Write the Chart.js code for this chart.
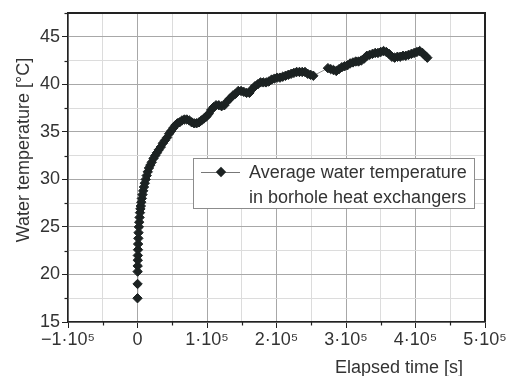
<!DOCTYPE html>
<html><head><meta charset="utf-8">
<script src="https://cdn.jsdelivr.net/npm/chart.js@4/dist/chart.umd.min.js"></script>
<style>html,body{margin:0;padding:0;background:#fff}#wrap{width:510px;height:376px}</style>
</head><body><div id="wrap"><canvas id="c" width="510" height="376"></canvas></div>
<script>
// elapsed time [s]
const elapsedTime = [
  0,100,200,300,400,500,700,900,1200,1500,2000,2500,3000,3600,4200,4800,5500,6300,7200,8200,
  9300,10500,11800,13200,14800,16500,18500,20500,23000,25500,28000,30500,33500,36500,39500,42500,
  45500,48500,51500,54500,57500,60500,64000,67500,71000,74500,78000,81500,85000,88500,92000,95500,
  99000,102500,106000,109500,113000,117000,121000,125000,129000,133000,137000,141000,145000,149000,
  153000,157000,161000,165000,169000,173000,177000,181000,185000,189000,193000,197000,201000,205000,
  209000,213000,217000,221000,225000,229000,233000,237000,241000,245000,249000,253000,
  274000,278000,282000,286000,290000,294000,298000,302000,306000,310000,314000,318000,322000,326000,
  330000,334000,338000,342000,346000,350000,354000,358000,362000,366000,370000,374000,378000,382000,
  386000,390000,394000,398000,402000,406000,410000,414000,417000
];
// average water temperature [°C]
const waterTemp = [
  17.5,19.0,20.3,20.9,21.5,22.0,22.6,23.2,23.8,24.4,25.0,25.5,26.0,26.5,26.9,27.2,27.6,28.0,28.4,28.8,
  29.2,29.6,30.0,30.4,30.8,31.2,31.5,31.8,32.2,32.5,32.8,33.1,33.4,33.8,34.1,34.4,
  34.8,35.1,35.4,35.7,35.9,36.0,36.2,36.3,36.3,36.2,36.0,35.9,35.9,36.0,36.2,36.4,
  36.6,36.9,37.3,37.6,37.8,37.8,37.7,37.8,38.2,38.5,38.8,39.0,39.3,39.3,
  39.2,39.1,39.1,39.5,39.8,40.0,40.2,40.2,40.2,40.3,40.5,40.6,40.7,40.7,
  40.8,40.9,41.0,41.1,41.2,41.3,41.3,41.3,41.3,41.1,41.0,40.9,
  41.7,41.6,41.5,41.4,41.6,41.8,41.9,42.0,42.2,42.3,42.4,42.4,42.5,42.7,
  43.0,43.1,43.2,43.3,43.3,43.4,43.5,43.4,43.2,42.9,42.8,42.9,42.9,43.0,
  43.0,43.1,43.2,43.3,43.4,43.5,43.3,43.0,42.8
];
const xTickValues = [-100000, 0, 100000, 200000, 300000, 400000, 500000];
const xTickLabels = ['\u22121\u00b710\u2075', '0', '1\u00b710\u2075', '2\u00b710\u2075', '3\u00b710\u2075', '4\u00b710\u2075', '5\u00b710\u2075'];
const yTickValues = [15, 20, 25, 30, 35, 40, 45];
const yTickLabels = ['15', '20', '25', '30', '35', '40', '45'];
const seriesLabel = ['Average water temperature', 'in borhole heat exchangers'];
const xTitle = 'Elapsed time [s]';
const yTitle = 'Water temperature [\u00b0C]';

const FONT = '"Liberation Sans", Arial, Helvetica, sans-serif';
const TXT = '#333333';
const MARK = '#1c2222';
const isMajorX = v => xTickValues.some(t => Math.abs(t - v) < 1e-6);
const isMajorY = v => yTickValues.some(t => Math.abs(t - v) < 1e-6);

const decor = {
  id: 'decor',
  afterDraw(chart) {
    const {ctx, chartArea: a, scales: {x, y}} = chart;
    ctx.save();
    // minor ticks
    ctx.strokeStyle = '#222'; ctx.lineWidth = 1.2;
    x.ticks.forEach(t => {
      if (!isMajorX(t.value)) {
        const px = Math.round(x.getPixelForValue(t.value)) + 0.5;
        ctx.beginPath(); ctx.moveTo(px, a.bottom); ctx.lineTo(px, a.bottom + 3.5); ctx.stroke();
      }
    });
    y.ticks.forEach(t => {
      if (!isMajorY(t.value)) {
        const py = Math.round(y.getPixelForValue(t.value)) + 0.5;
        ctx.beginPath(); ctx.moveTo(a.left - 3.5, py); ctx.lineTo(a.left, py); ctx.stroke();
      }
    });
    // frame top & right
    ctx.strokeStyle = '#222'; ctx.lineWidth = 2;
    ctx.beginPath(); ctx.moveTo(a.left, a.top); ctx.lineTo(a.right, a.top); ctx.lineTo(a.right, a.bottom); ctx.stroke();
    // axis titles
    ctx.fillStyle = TXT; ctx.font = '18px ' + FONT;
    ctx.textAlign = 'right'; ctx.textBaseline = 'alphabetic';
    ctx.fillText(xTitle, a.right - 22, a.bottom + 51);
    ctx.save();
    ctx.translate(24, a.top + 137); ctx.rotate(-Math.PI / 2);
    ctx.textAlign = 'center'; ctx.textBaseline = 'middle';
    ctx.fillText(yTitle, 0, 0);
    ctx.restore();
    // legend box
    const bx = a.left + 125, by = a.top + 145, bw = 281, bh = 50;
    ctx.fillStyle = '#fff'; ctx.fillRect(bx, by, bw, bh);
    ctx.strokeStyle = '#8c8c8c'; ctx.lineWidth = 1;
    ctx.strokeRect(bx + 0.5, by + 0.5, bw, bh);
    const ly = by + 14;
    ctx.strokeStyle = '#777'; ctx.lineWidth = 1;
    ctx.beginPath(); ctx.moveTo(bx + 8, ly + 0.5); ctx.lineTo(bx + 47, ly + 0.5); ctx.stroke();
    const cx = bx + 28, r = 5.2;
    ctx.fillStyle = MARK;
    ctx.beginPath(); ctx.moveTo(cx, ly - r); ctx.lineTo(cx + r, ly); ctx.lineTo(cx, ly + r); ctx.lineTo(cx - r, ly); ctx.closePath(); ctx.fill();
    ctx.fillStyle = TXT; ctx.font = '18px ' + FONT;
    ctx.textAlign = 'left'; ctx.textBaseline = 'middle';
    ctx.fillText(seriesLabel[0], bx + 56, ly + 1);
    ctx.fillText(seriesLabel[1], bx + 56, ly + 26);
    ctx.restore();
  }
};

new Chart(document.getElementById('c'), {
  type: 'scatter',
  data: {
    datasets: [{
      label: seriesLabel.join(' '),
      data: elapsedTime.map((t, i) => ({x: t, y: waterTemp[i]})),
      showLine: true,
      borderColor: '#8f8f8f',
      borderWidth: 1,
      pointStyle: 'rectRot',
      pointRadius: 4.7,
      pointBorderWidth: 1,
      pointBackgroundColor: MARK,
      pointBorderColor: MARK
    }]
  },
  options: {
    responsive: false,
    animation: false,
    devicePixelRatio: 1,
    layout: {padding: {top: 13, right: 25, left: 0, bottom: 0}},
    plugins: {legend: {display: false}, tooltip: {enabled: false}},
    scales: {
      x: {
        type: 'linear', min: -100000, max: 500000,
        ticks: {
          stepSize: 50000, autoSkip: false, maxRotation: 0, padding: 1,
          color: TXT, font: {size: 18, family: FONT},
          callback: v => { const i = xTickValues.findIndex(t => Math.abs(t - v) < 1e-6); return i >= 0 ? xTickLabels[i] : ''; }
        },
        grid: {
          color: c => (c.tick && isMajorX(c.tick.value)) ? '#a8a8a8' : '#dcdcdc',
          tickColor: c => (c.tick && isMajorX(c.tick.value)) ? '#222' : 'rgba(0,0,0,0)',
          tickLength: 6, lineWidth: 1
        },
        border: {color: '#222', width: 1.5},
        afterFit: s => { s.height = 54; }
      },
      y: {
        type: 'linear', min: 15, max: 47.5,
        ticks: {
          stepSize: 2.5, autoSkip: false, padding: 2,
          color: TXT, font: {size: 18, family: FONT},
          callback: v => { const i = yTickValues.findIndex(t => Math.abs(t - v) < 1e-6); return i >= 0 ? yTickLabels[i] : ''; }
        },
        grid: {
          color: c => (c.tick && isMajorY(c.tick.value)) ? '#a8a8a8' : '#dcdcdc',
          tickColor: c => (c.tick && isMajorY(c.tick.value)) ? '#222' : 'rgba(0,0,0,0)',
          tickLength: 6, lineWidth: 1
        },
        border: {color: '#222', width: 1.5},
        afterFit: s => { s.width = 68; }
      }
    }
  },
  plugins: [decor]
});
</script>
</body></html>
